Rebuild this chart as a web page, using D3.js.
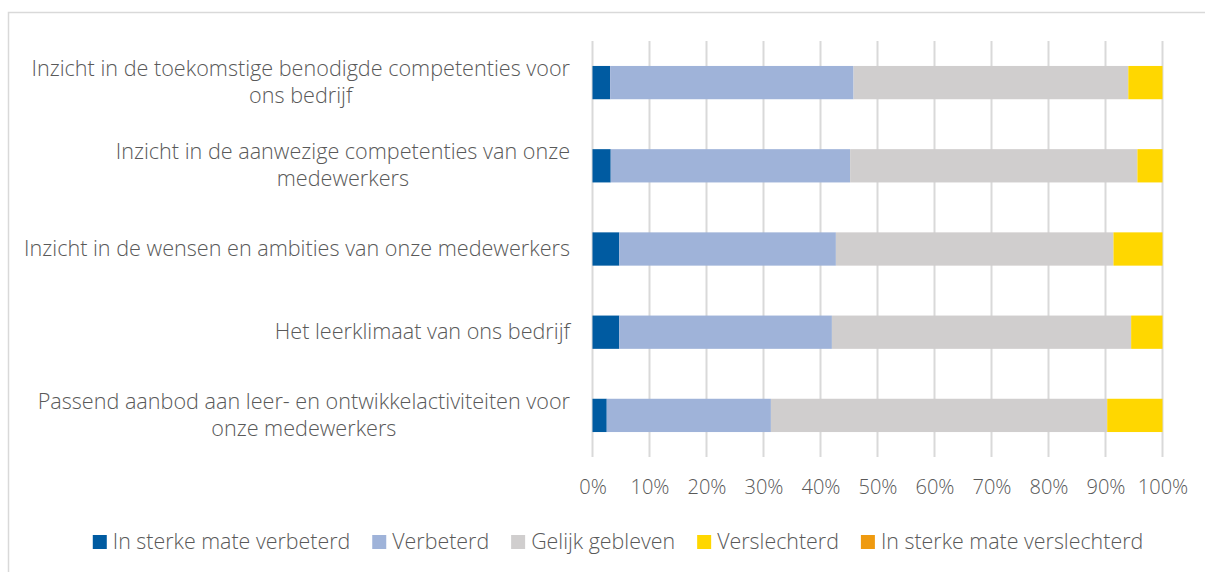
<!DOCTYPE html>
<html lang="nl">
<head>
  <meta charset="UTF-8">
  <title>Competenties</title>
  <style>
    html, body { margin: 0; padding: 0; background: #fff; }
    svg { display: block; font-family: "Open Sans", sans-serif; }
    .label { fill: #595959; font-size: 21.6px; font-weight: 300; }
    .x-axis path, .x-axis line { display: none; }
    .x-axis text { fill: #595959; font-size: 20px; font-weight: 300; font-family: "Open Sans", sans-serif; }
    .grid { stroke: #d9d9d9; stroke-width: 2; }
    .legend text { fill: #595959; font-size: 21.4px; font-weight: 300; }
  </style>
  <script src="https://cdn.jsdelivr.net/npm/d3@7"></script>
</head>
<body>
<script>
  // ---------- data ----------
  const categories = [
    ['Inzicht in de toekomstige benodigde competenties voor', 'ons bedrijf'],
    ['Inzicht in de aanwezige competenties van onze', 'medewerkers'],
    ['Inzicht in de wensen en ambities van onze medewerkers'],
    ['Het leerklimaat van ons bedrijf'],
    ['Passend aanbod aan leer- en ontwikkelactiviteiten voor', 'onze medewerkers']
  ];
  const seriesNames = ['In sterke mate verbeterd', 'Verbeterd', 'Gelijk gebleven', 'Verslechterd', 'In sterke mate verslechterd'];
  const colors = ['#005ba1', '#9fb3d9', '#d0cece', '#ffd700', '#ef9a0f'];
  const sterkVerbeterd = [3.1, 3.2, 4.7, 4.7, 2.5];
  const verbeterd = [42.7, 42.0, 38.0, 37.3, 28.8];
  const gelijk = [48.2, 50.4, 48.7, 52.5, 59.0];
  const verslechterd = [6.0, 4.4, 8.6, 5.5, 9.7];
  const sterkVerslechterd = [0, 0, 0, 0, 0];
  const xTicks = [0, 10, 20, 30, 40, 50, 60, 70, 80, 90, 100];

  const width = 1205;
  const height = 572;
  const plotLeft = 592.5;
  const plotRight = 1162.5;
  const plotTop = 41;
  const plotBottom = 457;

  const rows = categories.map((c, i) => ({
    key: i,
    lines: c,
    values: [sterkVerbeterd[i], verbeterd[i], gelijk[i], verslechterd[i], sterkVerslechterd[i]]
  }));

  const x = d3.scaleLinear().domain([0, 100]).range([plotLeft, plotRight]);
  const y = d3.scaleBand().domain(rows.map(r => r.key)).range([plotTop, plotBottom]).paddingInner(0.6).paddingOuter(0.3);

  const svg = d3.select('body').append('svg')
    .attr('width', width)
    .attr('height', height);

  // chart border
  svg.append('rect')
    .attr('x', 8.5).attr('y', 12.5)
    .attr('width', width).attr('height', height)
    .attr('fill', 'none')
    .attr('stroke', '#d9d9d9')
    .attr('stroke-width', 1.5);

  // vertical grid
  svg.append('g').selectAll('line')
    .data(xTicks)
    .enter().append('line')
    .attr('class', 'grid')
    .attr('x1', d => x(d)).attr('x2', d => x(d))
    .attr('y1', plotTop).attr('y2', plotBottom);

  // stacked bars
  const stack = rows.map(r => {
    let acc = 0;
    return r.values.map((v, j) => {
      const s = { row: r.key, j, x0: acc, x1: acc + v };
      acc += v;
      return s;
    });
  });
  // last segment fills to 100 (rounding)
  stack.forEach(s => { const last = s.filter(d => d.x1 - d.x0 > 0).pop(); last.x1 = 100; });

  svg.append('g').selectAll('g')
    .data(stack)
    .enter().append('g')
    .selectAll('rect')
    .data(d => d.filter(s => s.x1 > s.x0))
    .enter().append('rect')
    .attr('x', d => x(d.x0))
    .attr('width', d => x(d.x1) - x(d.x0))
    .attr('y', d => y(d.row))
    .attr('height', y.bandwidth())
    .attr('fill', d => colors[d.j]);

  // category labels
  const lineH = 27;
  const lab = svg.append('g').selectAll('text')
    .data(rows)
    .enter().append('text')
    .attr('class', 'label')
    .attr('text-anchor', 'middle')
    .attr('transform', d => {
      const cy = y(d.key) + y.bandwidth() / 2;
      return `translate(0,${cy - (d.lines.length - 1) * lineH / 2 + 7})`;
    });
  lab.each(function (d) {
    const t = d3.select(this);
    // right-aligned first line, following lines centred under it
    const tmp = t.append('tspan').text(d.lines[0]).attr('x', 0);
    const w = this.getComputedTextLength();
    tmp.remove();
    const cx = 570 - w / 2;
    d.lines.forEach((l, i) => {
      t.append('tspan').attr('x', cx).attr('dy', i === 0 ? 0 : lineH).text(l);
    });
  });

  // x axis
  svg.append('g')
    .attr('class', 'x-axis')
    .attr('transform', `translate(0,${plotBottom})`)
    .call(d3.axisBottom(x).tickValues(xTicks).tickFormat(d => d + '%').tickSize(0).tickPadding(23));

  // legend
  const legend = svg.append('g').attr('class', 'legend');
  const items = legend.selectAll('g')
    .data(seriesNames)
    .enter().append('g');
  items.append('rect')
    .attr('width', 14).attr('height', 14)
    .attr('y', 535)
    .attr('fill', (d, i) => colors[i]);
  items.append('text')
    .attr('x', 20)
    .attr('y', 549)
    .text(d => d);
  let pos = 0;
  const offsets = [];
  items.each(function () {
    const w = d3.select(this).select('text').node().getComputedTextLength();
    offsets.push(pos);
    pos += 20 + w + 22;
  });
  const total = pos - 22;
  const start = 618 - total / 2;
  items.attr('transform', (d, i) => `translate(${start + offsets[i]},0)`);
</script>
</body>
</html>
